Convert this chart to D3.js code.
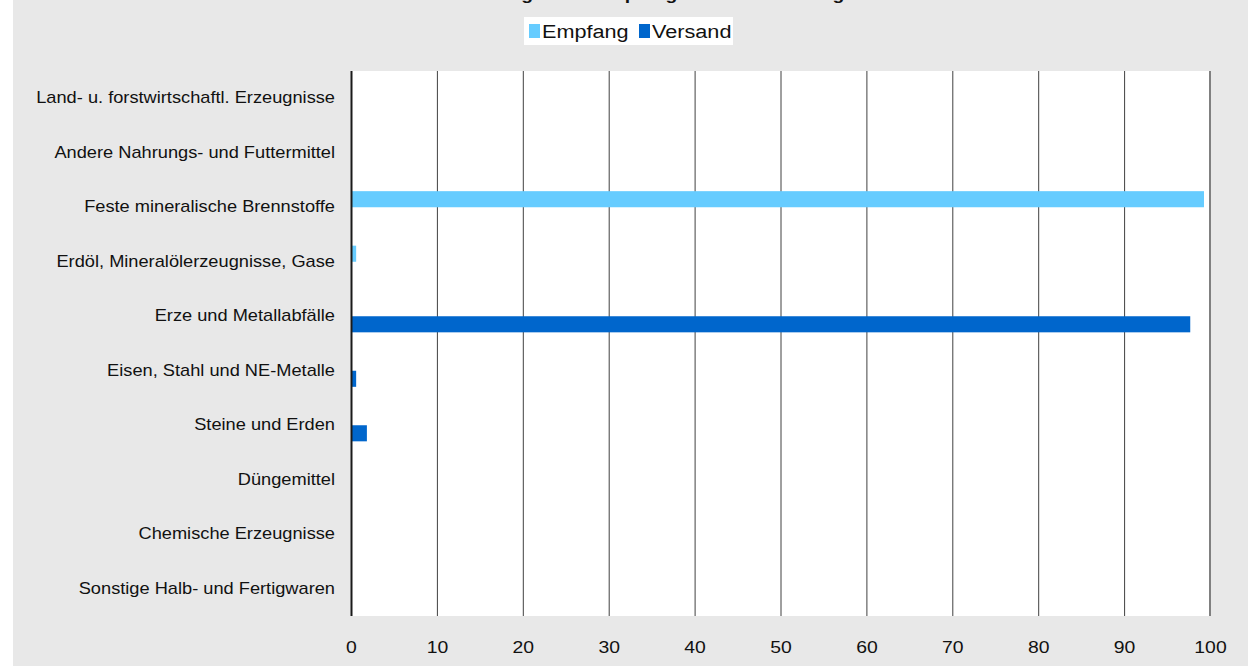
<!DOCTYPE html>
<html><head><meta charset="utf-8">
<script src="https://cdn.jsdelivr.net/npm/d3@7"></script>
<style>body{margin:0;background:#fff}svg{display:block}text{font-family:"Liberation Sans",Arial,sans-serif}</style>
</head><body><svg id="c" width="1248" height="666"></svg>
<script>
const title = "Anteil der Güterabteilungen am Empfang und Versand insgesamt in Prozent";
const categories = ["Land- u. forstwirtschaftl. Erzeugnisse","Andere Nahrungs- und Futtermittel","Feste mineralische Brennstoffe","Erdöl, Mineralölerzeugnisse, Gase","Erze und Metallabfälle","Eisen, Stahl und NE-Metalle","Steine und Erden","Düngemittel","Chemische Erzeugnisse","Sonstige Halb- und Fertigwaren"];
const seriesNames = ["Empfang","Versand"];
const empfang = [0,0,99.3,0.6,0.1,0,0,0,0,0];
const versand = [0,0,0,0,97.7,0.6,1.85,0,0,0];
const xTicks = [0,10,20,30,40,50,60,70,80,90,100];
const colors = ["#66CCFF","#0066CC"];

const SX = 1.14; // horizontal text stretch seen in the reference
const svg = d3.select("#c");
svg.append("rect").attr("x",13).attr("y",0).attr("width",1235).attr("height",666).attr("fill","#E8E8E8");
const L=351,R=1210,T=71,B=616;
svg.append("rect").attr("x",L).attr("y",T).attr("width",R-L).attr("height",B-T).attr("fill","#fff");
const x = d3.scaleLinear().domain([0,100]).range([L,R]);
const y = d3.scaleBand().domain(categories).range([T,B]).paddingInner(0.41).paddingOuter(0.205);
const ySub = d3.scaleBand().domain(seriesNames).range([0,y.bandwidth()]);

// grid
svg.append("g").selectAll("line").data(xTicks.slice(1,-1)).join("line")
 .attr("x1",d=>x(d)+0.5).attr("x2",d=>x(d)+0.5).attr("y1",T).attr("y2",B)
 .attr("stroke","#404040").attr("stroke-width",1);
svg.append("line").attr("x1",R).attr("x2",R).attr("y1",T).attr("y2",B).attr("stroke","#808080").attr("stroke-width",2);

// bars
const data = [empfang,versand];
const g = svg.append("g");
seriesNames.forEach((s,si)=>{
  g.selectAll(null).data(categories).join("rect")
   .attr("x",x(0)).attr("y",(c)=>y(c)+ySub(s))
   .attr("width",(c,i)=>x(data[si][i])-x(0)).attr("height",ySub.bandwidth())
   .attr("fill",colors[si]);
});
svg.append("line").attr("x1",L+0.5).attr("x2",L+0.5).attr("y1",T).attr("y2",B).attr("stroke","#1a1a1a").attr("stroke-width",2);

// x axis labels
const xa = svg.append("g").attr("transform",`translate(0,${B})`)
 .call(d3.axisBottom(x).tickValues(xTicks).tickSize(0).tickPadding(0).tickFormat(d3.format("d")));
xa.select(".domain").remove();
xa.selectAll("text").attr("dy",null).attr("y",37).attr("font-size",17).attr("fill","#111")
 .attr("font-family","Liberation Sans, Arial, sans-serif").attr("transform",`scale(${SX},1)`);

// y labels
const ya = svg.append("g").attr("transform",`translate(${L},0)`)
 .call(d3.axisLeft(y).tickSize(0).tickPadding(16));
ya.select(".domain").remove();
ya.selectAll("text").attr("font-size",16).attr("fill","#111")
 .attr("font-family","Liberation Sans, Arial, sans-serif")
 .attr("x",-16/SX).attr("transform",`scale(${SX},1)`);

// title (mostly outside top)
svg.append("text").attr("transform",`translate(650,0) scale(${SX},1)`).attr("text-anchor","middle")
 .attr("font-size",17).attr("font-weight","bold").attr("fill","#111").text(title);

// legend
const lg = svg.append("g");
lg.append("rect").attr("x",524).attr("y",17).attr("width",209).attr("height",28).attr("fill","#fff");
const items=[{n:"Empfang",x:529},{n:"Versand",x:639}];
items.forEach((it,i)=>{
  lg.append("rect").attr("x",it.x).attr("y",24).attr("width",11).attr("height",14).attr("fill",colors[i]);
  lg.append("text").attr("transform",`translate(${it.x+13},38) scale(${SX},1)`).attr("font-size",19).attr("fill","#111").text(it.n);
});
</script></body></html>
